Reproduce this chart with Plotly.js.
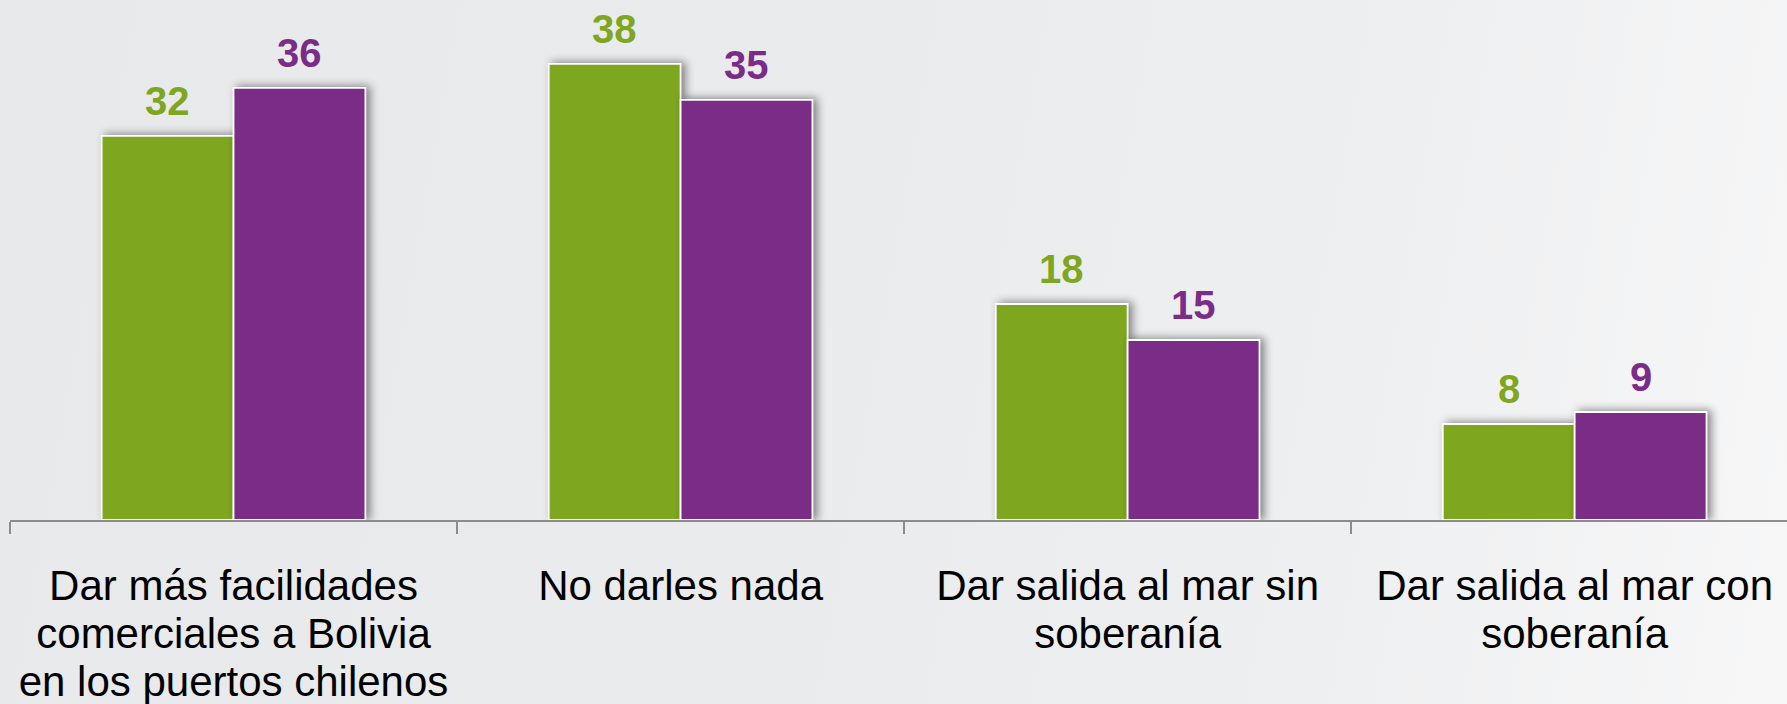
<!DOCTYPE html>
<html>
<head>
<meta charset="utf-8">
<script src="https://cdn.plot.ly/plotly-3.0.1.min.js"></script>
<style>
  html, body { margin: 0; padding: 0; }
  body { width: 1787px; height: 704px; overflow: hidden;
    background: linear-gradient(100deg, #e8e9eb 0%, #eaebed 45%, #eeeff0 75%, #f7f7f8 100%); }
  #chart { width: 1787px; height: 704px; }
  #chart .trace.bars .point path { filter: drop-shadow(4px -1px 4px rgba(0,0,0,0.45)); }
</style>
</head>
<body>
<div id="chart"></div>
<script>
const categories = [
  "Dar más facilidades<br>comerciales a Bolivia<br>en los puertos chilenos",
  "No darles nada",
  "Dar salida al mar sin<br>soberanía",
  "Dar salida al mar con<br>soberanía"
];
const seriesGreen = [32, 38, 18, 8];
const seriesPurple = [36, 35, 15, 9];
const seriesNames = ["Serie 1", "Serie 2"];

const green = "#7ea61e";
const purple = "#7a2c86";

const traces = [
  { type: "bar", name: seriesNames[0], x: categories, y: seriesGreen,
    marker: { color: green, line: { color: "#ffffff", width: 1.8 } }, hoverinfo: "none" },
  { type: "bar", name: seriesNames[1], x: categories, y: seriesPurple,
    marker: { color: purple, line: { color: "#ffffff", width: 1.8 } }, hoverinfo: "none" }
];

const annotations = [];
const shiftPx = 66;
categories.forEach((c, i) => {
  annotations.push({ x: c, y: seriesGreen[i], xref: "x", yref: "y", text: String(seriesGreen[i]),
    showarrow: false, yanchor: "bottom", xshift: -shiftPx, yshift: 11,
    font: { family: "Liberation Sans, Arial, sans-serif", size: 40, color: green, weight: "bold" } });
  annotations.push({ x: c, y: seriesPurple[i], xref: "x", yref: "y", text: String(seriesPurple[i]),
    showarrow: false, yanchor: "bottom", xshift: shiftPx, yshift: 11,
    font: { family: "Liberation Sans, Arial, sans-serif", size: 40, color: purple, weight: "bold" } });
});

const layout = {
  width: 1787, height: 704,
  margin: { l: 10, r: 0, t: 0, b: 184, pad: 0 },
  paper_bgcolor: "rgba(0,0,0,0)",
  plot_bgcolor: "rgba(0,0,0,0)",
  showlegend: false,
  barmode: "group",
  bargap: 0.41,
  bargroupgap: 0,
  font: { family: "Liberation Sans, Arial, sans-serif", color: "#000000" },
  xaxis: {
    type: "category",
    range: [-0.5, 3.475],
    tickson: "boundaries",
    tickangle: 0,
    ticks: "outside", ticklen: 12, tickwidth: 1.5, tickcolor: "#8c8c8c",
    showline: true, linecolor: "#8c8c8c", linewidth: 1.5,
    showgrid: false, zeroline: false,
    tickfont: { size: 42, color: "#000000" },
    ticklabelstandoff: 28,
    fixedrange: true
  },
  yaxis: {
    range: [0, 43.33],
    visible: false, showgrid: false, zeroline: false, fixedrange: true
  },
  annotations: annotations
};

function tightenLines() {
  const factor = 1.14 / 1.3;
  document.querySelectorAll("#chart .xtick text tspan.line").forEach(t => {
    const dy = t.getAttribute("dy");
    if (dy && /em$/.test(dy)) {
      t.setAttribute("dy", (parseFloat(dy) * factor) + "em");
    }
  });
}

Plotly.newPlot("chart", traces, layout, { displayModeBar: false, staticPlot: true }).then(tightenLines);
</script>
</body>
</html>
